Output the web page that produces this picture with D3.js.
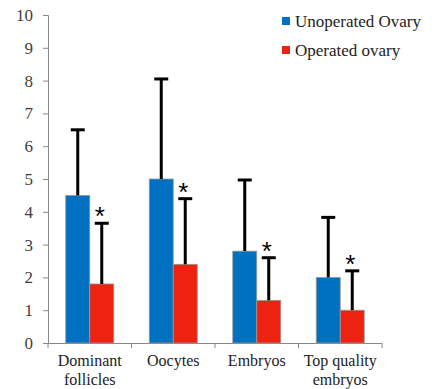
<!DOCTYPE html>
<html>
<head>
<meta charset="utf-8">
<script src="https://cdn.jsdelivr.net/npm/d3@7"></script>
<style>
  body { margin: 0; background: #fff; }
</style>
</head>
<body>
<div id="chart"></div>
<script>
// chart values
const categories = [["Dominant", "follicles"], ["Oocytes"], ["Embryos"], ["Top quality", "embryos"]];
const seriesNames = ["Unoperated Ovary", "Operated ovary"];
const unoperated = [4.5, 5.0, 2.8, 2.0];
const unoperatedErr = [2.0, 3.05, 2.17, 1.83];
const operated = [1.8, 2.4, 1.3, 1.0];
const operatedErr = [1.85, 2.0, 1.3, 1.2];
const yTicks = [0, 1, 2, 3, 4, 5, 6, 7, 8, 9, 10];

const colors = ["#0070C0", "#EE2211"];
const serif = "Liberation Serif, DejaVu Serif, Noto Serif, serif";

const margin = { top: 15, right: 53, bottom: 46, left: 48 };
const width = 435 - margin.left - margin.right;
const height = 389 - margin.top - margin.bottom;

const svg = d3.select("#chart").append("svg")
    .attr("width", 435)
    .attr("height", 389)
    .attr("font-family", serif)
    .append("g")
    .attr("transform", "translate(" + margin.left + "," + margin.top + ")");

const x = d3.scaleBand()
    .domain(d3.range(categories.length))
    .range([0, width]);

const y = d3.scaleLinear()
    .domain([0, 10])
    .range([height, 0]);

const barW = 24;

// axes
const yAxis = d3.axisLeft(y).tickValues(yTicks).tickSize(5).tickPadding(10);
const gy = svg.append("g").call(yAxis).attr("font-family", serif).attr("font-size", 17);
gy.select(".domain").attr("stroke", "#888").attr("d", "M-5,0.5H0.5V" + height);
gy.selectAll(".tick line").attr("stroke", "#888").attr("x2", -5);
gy.selectAll(".tick text").attr("fill", "#404040");

const gx = svg.append("g").attr("transform", "translate(0," + height + ")");
gx.append("line").attr("x1", 0).attr("x2", width).attr("y1", 0.5).attr("y2", 0.5).attr("stroke", "#888");
gx.selectAll(".xt")
    .data(d3.range(categories.length + 1))
    .enter().append("line")
    .attr("x1", d => d * x.bandwidth())
    .attr("x2", d => d * x.bandwidth())
    .attr("y1", 0).attr("y2", 5)
    .attr("stroke", "#888");

gx.selectAll(".lab")
    .data(categories)
    .enter().append("text")
    .attr("text-anchor", "middle")
    .attr("fill", "#222")
    .attr("font-size", 16)
    .attr("transform", (d, i) => "translate(" + (x(i) + x.bandwidth() / 2) + ",0)")
    .selectAll("tspan")
    .data(d => d)
    .enter().append("tspan")
    .attr("x", 0)
    .attr("y", (d, i) => 23 + i * 19)
    .text(d => d);

// bars
const series = [
    { vals: unoperated, err: unoperatedErr, off: -barW },
    { vals: operated, err: operatedErr, off: 0 }
];

series.forEach(function (s, si) {
    const cx = i => x(i) + x.bandwidth() / 2 + s.off;

    svg.selectAll(".bar" + si)
        .data(s.vals)
        .enter().append("rect")
        .attr("x", (d, i) => cx(i))
        .attr("y", d => y(d))
        .attr("width", barW)
        .attr("height", d => height - y(d))
        .attr("fill", colors[si])
        .attr("stroke", "#999")
        .attr("stroke-width", 0.8);

    // error bars (upper only)
    const eb = svg.selectAll(".err" + si)
        .data(s.vals)
        .enter().append("g");
    eb.append("line")
        .attr("x1", (d, i) => cx(i) + barW / 2)
        .attr("x2", (d, i) => cx(i) + barW / 2)
        .attr("y1", d => y(d))
        .attr("y2", (d, i) => y(d + s.err[i]))
        .attr("stroke", "#000").attr("stroke-width", 3);
    eb.append("line")
        .attr("x1", (d, i) => cx(i) + barW / 2 - 7)
        .attr("x2", (d, i) => cx(i) + barW / 2 + 7)
        .attr("y1", (d, i) => y(d + s.err[i]))
        .attr("y2", (d, i) => y(d + s.err[i]))
        .attr("stroke", "#000").attr("stroke-width", 3);

    if (si === 1) {
        svg.selectAll(".star")
            .data(s.vals)
            .enter().append("text")
            .attr("x", (d, i) => cx(i) + barW / 2 - 2)
            .attr("y", (d, i) => y(d + s.err[i]) + 2)
            .attr("text-anchor", "middle")
            .attr("font-size", 26)
            .attr("font-family", "Liberation Sans, Arial, sans-serif")
            .attr("fill", "#000")
            .text("*");
    }
});

// legend
const legend = svg.append("g").attr("transform", "translate(234,2)");
seriesNames.forEach(function (n, i) {
    legend.append("rect")
        .attr("x", 0).attr("y", i * 29)
        .attr("width", 8).attr("height", 8)
        .attr("fill", colors[i]);
    legend.append("text")
        .attr("x", 13).attr("y", i * 29 + 10)
        .attr("fill", "#222")
        .attr("font-size", 17)
        .text(n);
});
</script>
</body>
</html>
